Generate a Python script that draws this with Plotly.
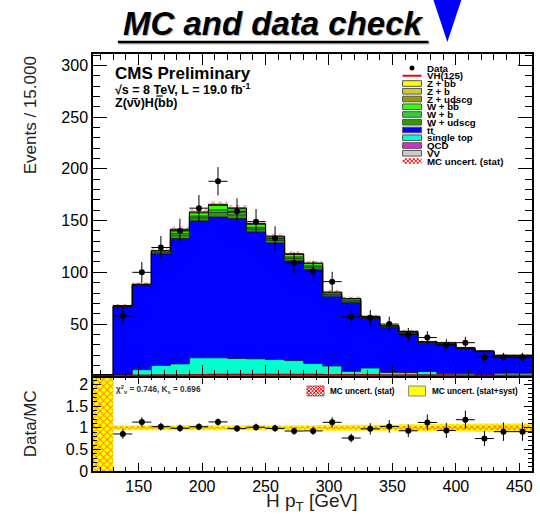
import numpy as np
import plotly.graph_objects as go

# ---------------- data ----------------
bin_edges = [130, 145, 160, 175, 190, 205, 220, 235, 250, 265, 280, 295,
             310, 325, 340, 355, 370, 385, 400, 415, 430, 445, 460]
data = [58, 100, 124, 140, 162, 188, 159, 149, 133, 109, 101, 91,
        57, 56, 50, 40, 37, 30, 32, 18, 18, 18]
data_err = [7.6, 10.0, 11.1, 11.8, 12.7, 13.7, 12.6, 12.2, 11.5, 10.4, 10.0, 9.5,
            7.5, 7.5, 7.1, 6.3, 6.1, 5.5, 5.7, 4.2, 4.2, 4.2]
vv = [0.2, 0.3, 0.4, 0.4, 0.5, 0.5, 0.5, 0.5, 0.4, 0.4, 0.4, 0.3,
      0.3, 0.3, 0.3, 0.2, 0.2, 0.2, 0.2, 0.2, 0.1, 0.1]
qcd = [0.0, 0.0, 0.0, 0.0, 0.0, 0.0, 0.0, 0.0, 0.0, 0.0, 0.0, 0.0,
       0.0, 0.0, 0.0, 0.0, 0.0, 0.0, 0.0, 0.0, 0.0, 0.0]
single_top = [0.8, 5.6, 9.5, 11.1, 16.9, 16.9, 16.2, 15.9, 15.3, 14.3, 11.4, 9.2,
              4.0, 7.2, 3.0, 3.0, 4.0, 1.7, 1.7, 0.3, 2.4, 2.4]
ttbar = [65.7, 81.1, 107.7, 121.2, 132.3, 136.2, 135.3, 122.6, 112.8, 96.3, 91.0, 67.5,
         66.6, 48.0, 43.1, 37.8, 27.2, 27.8, 24.6, 22.8, 15.9, 16.0]
w_udscg = [0.4, 0.5, 1.2, 3.2, 3.0, 4.3, 3.6, 2.9, 2.3, 2.5, 2.2, 1.4,
           1.4, 0.7, 0.7, 0.7, 0.6, 0.8, 0.2, 0.2, 0.5, 0.5]
w_b = [0.2, 0.3, 0.7, 1.8, 1.7, 2.4, 2.1, 1.6, 1.3, 1.4, 1.2, 0.8,
       0.8, 0.4, 0.4, 0.4, 0.3, 0.5, 0.1, 0.2, 0.3, 0.3]
w_bb = [0.4, 0.5, 1.2, 3.1, 3.0, 4.3, 3.6, 2.9, 2.3, 2.4, 2.2, 1.3,
        1.3, 0.7, 0.8, 0.7, 0.5, 0.8, 0.2, 0.2, 0.5, 0.4]
z_udscg = [0.1, 0.1, 0.2, 0.5, 0.5, 0.6, 0.5, 0.4, 0.3, 0.4, 0.3, 0.2,
           0.2, 0.1, 0.1, 0.1, 0.1, 0.1, 0.0, 0.1, 0.1, 0.1]
z_b = [0.0, 0.05, 0.05, 0.2, 0.25, 0.3, 0.25, 0.2, 0.15, 0.15, 0.15, 0.1,
       0.1, 0.05, 0.05, 0.05, 0.05, 0.05, 0.0, 0.0, 0.0, 0.0]
z_bb = [0.0, 0.05, 0.05, 0.2, 0.25, 0.3, 0.25, 0.2, 0.15, 0.15, 0.15, 0.1,
        0.1, 0.05, 0.05, 0.05, 0.05, 0.05, 0.0, 0.0, 0.0, 0.0]
vh125 = [0.3, 0.5, 0.7, 0.8, 1.0, 1.1, 1.2, 1.2, 1.2, 1.2, 1.1, 1.0,
         1.0, 0.9, 0.8, 0.8, 0.7, 0.7, 0.6, 0.5, 0.5, 0.5]
mc_stat_err = [1.5, 1.8, 2.2, 2.5, 2.6, 2.7, 2.7, 2.5, 2.4, 2.3, 2.2, 1.9,
               1.9, 1.6, 1.5, 1.5, 1.3, 1.3, 1.2, 1.1, 1.0, 1.0]
syst_rel = [0.06, 0.06, 0.06, 0.06, 0.06, 0.06, 0.06, 0.06, 0.06, 0.06, 0.06, 0.07,
            0.07, 0.07, 0.07, 0.08, 0.08, 0.09, 0.09, 0.10, 0.10, 0.10]

x_range = [114, 460]
y_range = [0, 311]
r_range = [0, 2.2]

# ---------------- derived ----------------
edges = np.array(bin_edges, dtype=float)
centers = 0.5 * (edges[:-1] + edges[1:])
widths = np.diff(edges)
data_a = np.array(data, float)
derr = np.array(data_err, float)

layers = [
    ("VV", vv, "#cccccc", 0),
    ("QCD", qcd, "#cc33cc", 0),
    ("single top", single_top, "#00ffcc", 0.7),
    ("tt", ttbar, "#0000ff", 0.7),
    ("W + udscg", w_udscg, "#339900", 0.7),
    ("W + b", w_b, "#33cc33", 0.7),
    ("W + bb", w_bb, "#33ff00", 0.7),
    ("Z + udscg", z_udscg, "#999900", 0.5),
    ("Z + b", z_b, "#cccc33", 0.5),
    ("Z + bb", z_bb, "#ffff00", 0.7),
]

fig = go.Figure()

def step_xy(vals):
    xs = [edges[0]] + list(edges)
    ys = [0.0] + list(vals) + [vals[-1]]
    return xs, ys

cum = np.zeros(len(centers))
xs, ys = step_xy(cum)
fig.add_trace(go.Scatter(x=xs, y=ys, mode="lines", line=dict(width=0, shape="hv"),
                         xaxis="x2", yaxis="y", hoverinfo="skip", showlegend=False))
for name, vals, col, lw in layers:
    cum = cum + np.array(vals, float)
    xs, ys = step_xy(cum)
    fig.add_trace(go.Scatter(x=xs, y=ys, mode="lines", fill="tonexty", fillcolor=col,
                             line=dict(width=lw, color="black", shape="hv"),
                             xaxis="x2", yaxis="y", name=name, showlegend=False))
total = cum.copy()
stat = np.array(mc_stat_err, float)

# MC stat uncertainty hatch on top of stack
fig.add_trace(go.Bar(x=centers, y=2 * stat, base=total - stat, width=widths,
                     marker=dict(color="rgba(0,0,0,0)", line=dict(width=0),
                                 pattern=dict(shape="x", fgcolor="#ff0000",
                                              bgcolor="rgba(0,0,0,0)", size=5, solidity=0.35)),
                     xaxis="x2", yaxis="y", showlegend=False))

# VH(125) line
vx = [x_range[0]] + list(edges)
vy = [0.0] + list(vh125) + [vh125[-1]]
fig.add_trace(go.Scatter(x=vx, y=vy, mode="lines", line=dict(color="#b00000", width=1.6, shape="hv"),
                         xaxis="x2", yaxis="y", showlegend=False))

# data
fig.add_trace(go.Scatter(x=centers, y=data_a, mode="markers",
                         marker=dict(color="black", size=6),
                         error_y=dict(type="data", array=derr, width=0, thickness=1, color="black"),
                         error_x=dict(type="data", array=widths / 2, width=0, thickness=1, color="black"),
                         xaxis="x2", yaxis="y", showlegend=False))

# ---------------- ratio panel ----------------
srel = np.array(syst_rel, float)
strel = stat / total
# empty-MC region on the left
fig.add_trace(go.Bar(x=[0.5 * (x_range[0] + edges[0])], y=[r_range[1]], base=[0],
                     width=[edges[0] - x_range[0]],
                     marker=dict(color="#ffff00", line=dict(width=0),
                                 pattern=dict(shape="x", fgcolor="#ff0000", bgcolor="#ffff00",
                                              size=5, solidity=0.35)),
                     xaxis="x", yaxis="y2", showlegend=False))
fig.add_trace(go.Bar(x=centers, y=2 * srel, base=1 - srel, width=widths,
                     marker=dict(color="#ffff00", line=dict(width=0),
                                 pattern=dict(shape="x", fgcolor="#ff5500", bgcolor="#ffff00",
                                              size=4, solidity=0.25)),
                     xaxis="x", yaxis="y2", showlegend=False))
fig.add_trace(go.Bar(x=centers, y=2 * strel, base=1 - strel, width=widths,
                     marker=dict(color="rgba(0,0,0,0)", line=dict(width=0),
                                 pattern=dict(shape="x", fgcolor="#ff0000",
                                              bgcolor="rgba(0,0,0,0)", size=4, solidity=0.45)),
                     xaxis="x", yaxis="y2", showlegend=False))
ratio = data_a / total
ratio_err = derr / total
fig.add_trace(go.Scatter(x=centers, y=ratio, mode="markers",
                         marker=dict(color="black", size=6),
                         error_y=dict(type="data", array=ratio_err, width=0, thickness=1, color="black"),
                         error_x=dict(type="data", array=widths / 2, width=0, thickness=1, color="black"),
                         xaxis="x", yaxis="y2", showlegend=False))

# ---------------- layout ----------------
L, R, T, B = 93, 534, 54, 471
W_PX, H_PX = 540, 515
split_px = 375.8

def xp(px):
    return (px - L) / (R - L)

def yp(py):
    return (B - py) / (B - T)

FONT = "Liberation Sans"
split = yp(split_px)

axis_common = dict(showline=True, linecolor="black", linewidth=1.5, mirror="allticks",
                   ticks="inside", tickcolor="black", showgrid=False, zeroline=False,
                   tickfont=dict(family=FONT, size=16, color="black"))

fig.update_layout(
    width=W_PX, height=H_PX,
    margin=dict(l=L, r=W_PX - R, t=T, b=H_PX - B),
    paper_bgcolor="white", plot_bgcolor="white",
    barmode="overlay", showlegend=False,
    xaxis=dict(domain=[0, 1], anchor="y2", range=x_range, tick0=0, dtick=50,
               ticklen=8, tickwidth=1,
               minor=dict(ticks="inside", dtick=10, ticklen=4, tickcolor="black"),
               **axis_common),
    xaxis2=dict(domain=[0, 1], anchor="y", range=x_range, tick0=0, dtick=50, matches="x",
                ticklen=11, tickwidth=1, showticklabels=False,
                minor=dict(ticks="inside", dtick=10, ticklen=6, tickcolor="black"),
                **axis_common),
    yaxis=dict(domain=[split, 1], anchor="x2", range=y_range,
               tickvals=[50, 100, 150, 200, 250, 300], ticklen=14, tickwidth=1,
               minor=dict(ticks="inside", dtick=10, tick0=0, ticklen=7, tickcolor="black"),
               **axis_common),
    yaxis2=dict(domain=[0, split], anchor="x", range=r_range,
                tickvals=[0, 0.5, 1, 1.5, 2], ticktext=["0", "0.5", "1", "1.5", "2"],
                ticklen=8, tickwidth=1,
                minor=dict(ticks="inside", dtick=0.1, tick0=0, ticklen=4, tickcolor="black"),
                **axis_common),
)

annotations = []
shapes = []

def ann(text, x, y, size, xanchor="left", yanchor="middle", bold=False, italic=False,
        color="black", angle=0):
    t = text
    if italic:
        t = "<i>" + t + "</i>"
    if bold:
        t = "<b>" + t + "</b>"
    annotations.append(dict(text=t, x=xp(x), y=yp(y), xref="paper", yref="paper",
                            xanchor=xanchor, yanchor=yanchor, showarrow=False,
                            textangle=angle,
                            font=dict(family=FONT, size=size, color=color)))

def overline(x0, x1, y, w=1.0):
    shapes.append(dict(type="line", xref="paper", yref="paper", x0=xp(x0), x1=xp(x1),
                       y0=yp(y), y1=yp(y), line=dict(color="black", width=w)))

# title with shadow + underline
ann("MC and data check", 275.5, 24.5, 33, xanchor="center", bold=True, italic=True, color="#bbbbbb")
ann("MC and data check", 274, 23, 33, xanchor="center", bold=True, italic=True)
shapes.append(dict(type="line", xref="paper", yref="paper", x0=xp(119), x1=xp(431),
                   y0=yp(43.3), y1=yp(43.3), line=dict(color="#bbbbbb", width=2.5)))
shapes.append(dict(type="line", xref="paper", yref="paper", x0=xp(118), x1=xp(430),
                   y0=yp(42), y1=yp(42), line=dict(color="black", width=2.5)))
# blue triangle
shapes.append(dict(type="path", xref="paper", yref="paper",
                   path="M {} {} L {} {} L {} {} Z".format(xp(435), yp(0), xp(463), yp(0), xp(449), yp(42)),
                   fillcolor="#0000ff", line=dict(width=0)))

# CMS labels
ann("CMS Preliminary", 113, 73, 17, bold=True)
ann("√s = 8 TeV, L = 19.0 fb<sup>-1</sup>", 113, 89, 12.5, bold=True)
ann("Z(νν)H(bb)", 113, 103, 12.5, bold=True)
fs = 12.5
overline(113 + 1.50 * fs + 0.5, 113 + 2.056 * fs - 0.5, 98.6, 1.2)   # over second nu
overline(113 + 3.444 * fs + 0.5, 113 + 4.055 * fs - 0.5, 96.0, 1.2)  # over second b

# axis titles
ann("Events / 15.000", 30, 115, 17, xanchor="center", angle=-90, color="#222222")
ann("Data/MC", 30, 424, 17, xanchor="center", angle=-90, color="#222222")
ann("H p<sub>T</sub> [GeV]", 313, 502, 19, xanchor="center", color="#222222")


def hatch_path(x0, y0, x1, y1, step):
    segs = []
    w = x1 - x0
    h = y1 - y0
    c = -h
    while c <= w:
        tmin = max(0.0, -c)
        tmax = min(h, w - c)
        if tmax > tmin:
            segs.append("M {} {} L {} {}".format(xp(x0 + c + tmin), yp(y0 + tmin),
                                                 xp(x0 + c + tmax), yp(y0 + tmax)))
            segs.append("M {} {} L {} {}".format(xp(x0 + c + tmin), yp(y1 - tmin),
                                                 xp(x0 + c + tmax), yp(y1 - tmax)))
        c += step
    return " ".join(segs)

# legend (top panel); bar = (start_em, width_em) of overlined char
leg_entries = [
    ("Data", "dot", None, None),
    ("VH(125)", "line", "#ff0000", None),
    ("Z + bb", "box", "#ffff00", (2.362, 0.611)),
    ("Z + b", "box", "#cccc33", None),
    ("Z + udscg", "box", "#999900", None),
    ("W + bb", "box", "#33ff00", (2.695, 0.611)),
    ("W + b", "box", "#33cc33", None),
    ("W + udscg", "box", "#339900", None),
    ("tt", "box", "#0000ff", (0.333, 0.333)),
    ("single top", "box", "#00ffcc", None),
    ("QCD", "box", "#cc33cc", None),
    ("VV", "box", "#cccccc", None),
    ("MC uncert. (stat)", "hatch", "#ff0000", None),
]
ly0, ldy = 68, 7.75
bx0, bx1 = 404, 423
lfs = 9.7
tx0 = 427
for i, (label, kind, col, bar) in enumerate(leg_entries):
    yy = ly0 + i * ldy
    if kind == "dot":
        shapes.append(dict(type="circle", xref="paper", yref="paper",
                           x0=xp(bx0 + 7), x1=xp(bx0 + 12), y0=yp(yy - 2.5), y1=yp(yy + 2.5),
                           fillcolor="black", line=dict(width=0)))
    elif kind == "line":
        shapes.append(dict(type="line", xref="paper", yref="paper",
                           x0=xp(bx0), x1=xp(bx1), y0=yp(yy), y1=yp(yy),
                           line=dict(color=col, width=2)))
    elif kind == "box":
        shapes.append(dict(type="rect", xref="paper", yref="paper",
                           x0=xp(bx0), x1=xp(bx1), y0=yp(yy - 2.8), y1=yp(yy + 2.8),
                           fillcolor=col, line=dict(color="#555555", width=1)))
    else:
        shapes.append(dict(type="path", xref="paper", yref="paper",
                           path=hatch_path(bx0, yy - 2.8, bx1, yy + 2.8, 4),
                           line=dict(color=col, width=1)))
    ann(label, tx0, yy, lfs, bold=True)
    if bar is not None:
        s, w = bar
        ytop = yy - 4.6 if label != "tt" else yy - 3.9
        overline(tx0 + s * lfs + 0.4, tx0 + (s + w) * lfs - 0.4, ytop, 1.0)

# ratio panel texts and legend
ann("χ<sup>2</sup><sub>ν</sub> = 0.746, K<sub>s</sub> = 0.696", 114, 389, 8.2, bold=True, color="#333333")
shapes.append(dict(type="rect", xref="paper", yref="paper", x0=xp(308), x1=xp(325),
                   y0=yp(386), y1=yp(396), fillcolor="white", line=dict(color="#888888", width=1)))
shapes.append(dict(type="path", xref="paper", yref="paper",
                   path=hatch_path(308, 386, 325, 396, 3.5), line=dict(color="#ff0000", width=1)))
ann("MC uncert. (stat)", 329, 391, 8.2, bold=True)
shapes.append(dict(type="rect", xref="paper", yref="paper", x0=xp(410), x1=xp(427),
                   y0=yp(386), y1=yp(396), fillcolor="#ffff00", line=dict(color="#888888", width=1)))
ann("MC uncert. (stat+syst)", 432, 391, 8.2, bold=True)

fig.update_layout(annotations=annotations, shapes=shapes)

fig.write_html("out.html", config={"displayModeBar": False})
